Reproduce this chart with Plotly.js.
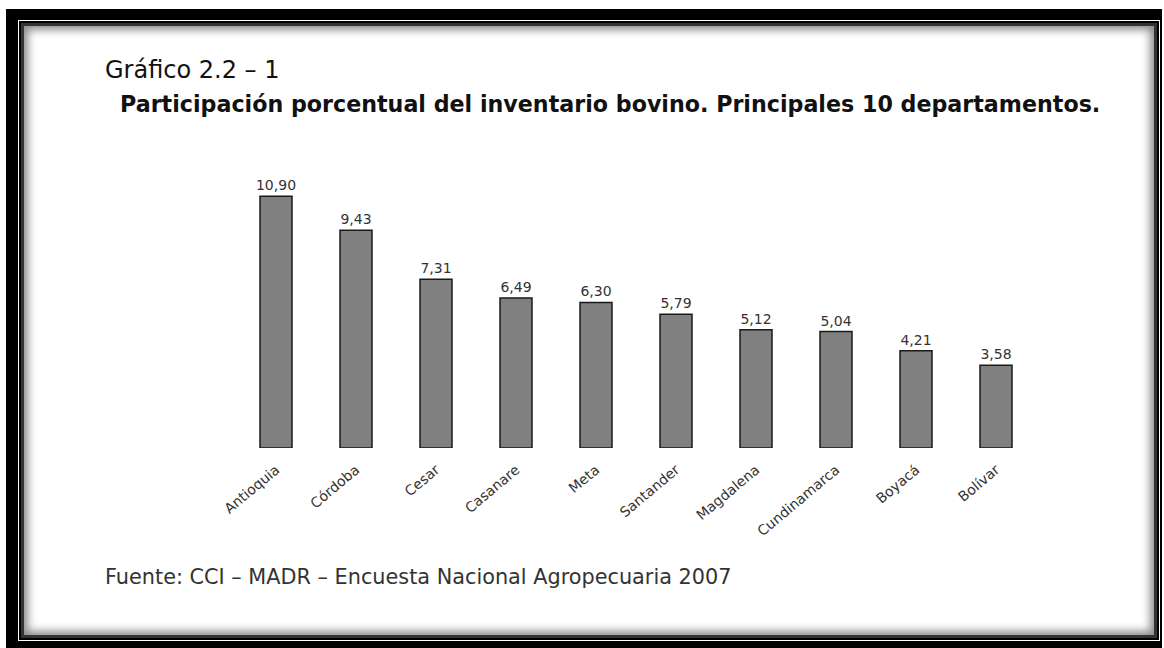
<!DOCTYPE html>
<html><head><meta charset="utf-8">
<script src="https://cdn.plot.ly/plotly-3.0.1.min.js"></script>
<style>
html,body{margin:0;padding:0;background:#fff;width:1164px;height:648px;overflow:hidden;}
#frame{position:absolute;left:6px;top:9px;width:1156px;height:639px;box-sizing:border-box;background:#000;}
#frame2{position:absolute;left:12px;top:11px;right:2px;bottom:7px;border:1.5px solid #fff;}
#frame3{position:absolute;left:2px;top:2px;right:2px;bottom:2px;border:3px solid #333;background:#fff;box-shadow:inset 0 0 9px 4px rgba(0,0,0,0.45);}
#chart{position:absolute;left:0;top:0;width:1164px;height:648px;}
</style></head>
<body>
<div id="frame"><div id="frame2"><div id="frame3"></div></div></div>
<div id="chart"></div>
<script>
const categories = ["Antioquia","Córdoba","Cesar","Casanare","Meta","Santander","Magdalena","Cundinamarca","Boyacá","Bolívar"];
const values = [10.90, 9.43, 7.31, 6.49, 6.30, 5.79, 5.12, 5.04, 4.21, 3.58];
const figureLabel = "Gráfico 2.2 – 1";
const titleText = "Participación porcentual del inventario bovino. Principales 10 departamentos.";
const sourceText = "Fuente: CCI – MADR – Encuesta Nacional Agropecuaria 2007";

const FONT = "DejaVu Sans, Lato, sans-serif";
const trace = {
  type: "bar", x: categories, y: values,
  marker: {color: "#808080", line: {color: "#1a1a1a", width: 1.5}},
  texttemplate: "%{y:.2f}", textposition: "outside", cliponaxis: false, constraintext: "none",
  textfont: {family: FONT, size: 14, color: "#333"},
  hoverinfo: "skip"
};
const layout = {
  width: 1164, height: 648,
  margin: {l: 236, r: 128, t: 148, b: 200},
  paper_bgcolor: "rgba(0,0,0,0)", plot_bgcolor: "rgba(0,0,0,0)",
  separators: ",.",
  bargap: 0.6,
  showlegend: false,
  xaxis: {type: "category", range: [-0.5, 9.5], showline: false, showgrid: false, zeroline: false,
    ticks: "", tickangle: -40, ticklabelstandoff: 10, tickfont: {family: FONT, size: 14, color: "#333"}, automargin: false},
  yaxis: {range: [0, 12.987], visible: false, showgrid: false, zeroline: false},
  annotations: [
    {text: figureLabel, xref: "paper", yref: "paper", x: -0.16625, y: 1.26, xanchor: "left", yanchor: "middle",
     showarrow: false, font: {family: FONT, size: 24, color: "#111"}},
    {text: "<b>" + titleText + "</b>", xref: "paper", yref: "paper", x: -0.1475, y: 1.1467, xanchor: "left", yanchor: "middle",
     showarrow: false, font: {family: FONT, size: 22.2, color: "#111"}},
    {text: sourceText, xref: "paper", yref: "paper", x: -0.16625, y: -0.43, xanchor: "left", yanchor: "middle",
     showarrow: false, font: {family: FONT, size: 20.8, color: "#333"}}
  ]
};
Plotly.newPlot("chart", [trace], layout, {displayModeBar: false, staticPlot: true});
</script>
</body></html>
